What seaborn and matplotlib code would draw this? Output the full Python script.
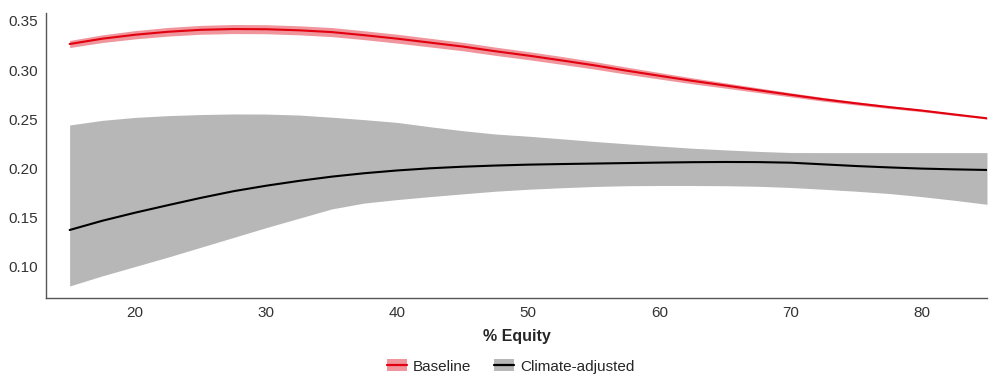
import matplotlib
matplotlib.use("Agg")
from matplotlib import pyplot as plt
from matplotlib.patches import Patch
from matplotlib.lines import Line2D
from matplotlib.legend_handler import HandlerTuple
import numpy as np
import pandas as pd
import seaborn as sns

# values
equity = [15, 17.5, 20, 22.5, 25, 27.5, 30, 32.5, 35, 37.5, 40, 42.5, 45, 47.5,
          50, 52.5, 55, 57.5, 60, 62.5, 65, 67.5, 70, 72.5, 75, 77.5, 80, 82.5, 85]

baseline = [0.3266, 0.3320, 0.3360, 0.3390, 0.3410, 0.3418, 0.3416, 0.3405,
            0.3387, 0.3355, 0.3320, 0.3280, 0.3240, 0.3192, 0.3148, 0.3100,
            0.3050, 0.2995, 0.2943, 0.2892, 0.2845, 0.2797, 0.2750, 0.2704,
            0.2663, 0.2625, 0.2590, 0.2550, 0.2511]
baseline_err = [0.0036, 0.0039, 0.0042, 0.0044, 0.0045, 0.0046, 0.0046, 0.0046,
                0.0046, 0.0045, 0.0045, 0.0044, 0.0043, 0.0042, 0.0041, 0.0040,
                0.0038, 0.0036, 0.0033, 0.0030, 0.0027, 0.0024, 0.0021, 0.0019,
                0.0016, 0.0014, 0.0012, 0.0010, 0.0008]

climate = [0.1376, 0.1470, 0.1552, 0.1628, 0.1702, 0.1770, 0.1826, 0.1875,
           0.1918, 0.1953, 0.1981, 0.2003, 0.2019, 0.2031, 0.2040, 0.2046,
           0.2051, 0.2056, 0.2061, 0.2065, 0.2067, 0.2066, 0.2060, 0.2043,
           0.2026, 0.2012, 0.2000, 0.1992, 0.1986]
climate_hi = [0.2443, 0.2490, 0.2520, 0.2538, 0.2549, 0.2555, 0.2554, 0.2544,
              0.2522, 0.2497, 0.2469, 0.2425, 0.2385, 0.2351, 0.2329, 0.2303,
              0.2276, 0.2252, 0.2229, 0.2207, 0.2190, 0.2175, 0.2163, 0.2162,
              0.2162, 0.2162, 0.2162, 0.2162, 0.2162]
climate_lo = [0.0807, 0.0910, 0.1005, 0.1100, 0.1200, 0.1300, 0.1400, 0.1495,
              0.1590, 0.1650, 0.1685, 0.1715, 0.1743, 0.1770, 0.1790, 0.1805,
              0.1818, 0.1826, 0.1828, 0.1828, 0.1826, 0.1820, 0.1808, 0.1790,
              0.1770, 0.1747, 0.1715, 0.1678, 0.1637]

sns.set_theme(style="white")
plt.rcParams['font.family'] = ['Liberation Sans', 'DejaVu Sans']

red = "#e3000f"
red_band = "#f0959c"
grey_band = "#b7b7b7"

df = pd.DataFrame({"equity": equity, "baseline": baseline, "climate": climate})
b_lo = np.array(baseline) - np.array(baseline_err)
b_hi = np.array(baseline) + np.array(baseline_err)

fig = plt.figure(figsize=(10.01, 3.85), dpi=100)
ax = fig.add_axes([0.046, 0.226, 0.94, 0.74])

ax.fill_between(equity, climate_lo, climate_hi, color=grey_band, lw=0)
ax.fill_between(equity, b_lo, b_hi, color=red_band, lw=0)
sns.lineplot(data=df, x="equity", y="baseline", color=red, lw=1.5, ax=ax)
sns.lineplot(data=df, x="equity", y="climate", color="black", lw=1.5, ax=ax)

ax.set_xlim(13.2, 85)
ax.set_ylim(0.0685, 0.358)
ax.set_xticks([20, 30, 40, 50, 60, 70, 80])
ax.set_yticks([0.10, 0.15, 0.20, 0.25, 0.30, 0.35])
ax.set_yticklabels(["0.10", "0.15", "0.20", "0.25", "0.30", "0.35"])
ax.tick_params(labelsize=11, colors="#333333", length=0, pad=6)
ax.set_xlabel("% Equity", fontsize=11.5, fontweight="bold", labelpad=6)
ax.set_ylabel("")

sns.despine(ax=ax)
for s in ["left", "bottom"]:
    ax.spines[s].set_color("#555555")
    ax.spines[s].set_linewidth(1)

handles = [
    (Patch(color=red_band, lw=0), Line2D([], [], color=red, lw=1.6)),
    (Patch(color=grey_band, lw=0), Line2D([], [], color="black", lw=1.6)),
]
fig.legend(handles, ["Baseline", "Climate-adjusted"], loc="center",
           bbox_to_anchor=(0.51, 0.048), ncol=2, frameon=False, fontsize=11,
           handler_map={tuple: HandlerTuple(ndivide=1)},
           handlelength=1.3, handleheight=0.8, columnspacing=1.5, handletextpad=0.4)

fig.savefig("out.png", dpi=100)
